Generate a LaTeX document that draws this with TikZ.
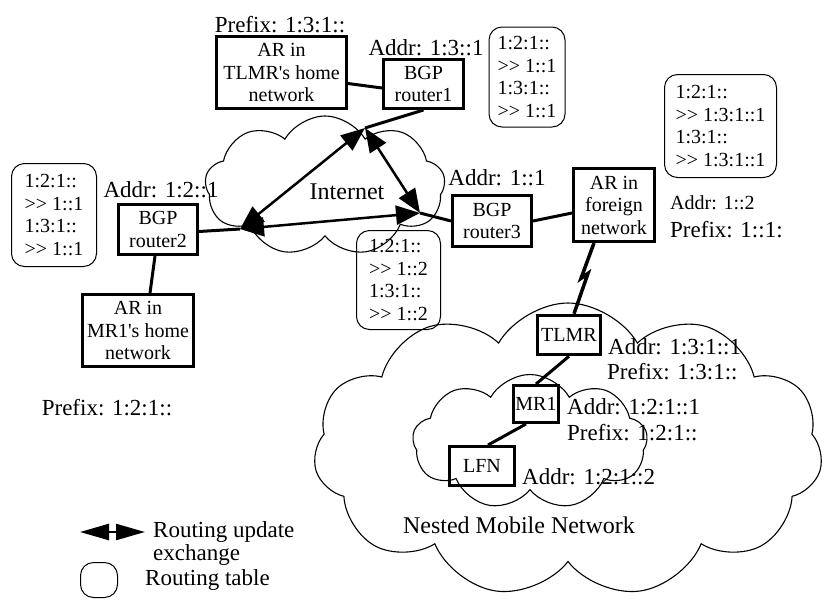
\documentclass[tikz,border=0pt]{standalone}
\usepackage{fontspec}
\setmainfont{Liberation Serif}[Ligatures=TeXOff]
\usetikzlibrary{shapes.symbols,arrows.meta,calc}

\begin{document}
\begin{tikzpicture}[x=1pt,y=-1pt]
\tikzstyle{every node}+=[inner sep=0pt]
\tikzstyle{box}=[draw, line width=3pt, align=center, font=\fontsize{20}{22.5}\selectfont]
\tikzstyle{rtable}=[draw, line width=1pt, rounded corners=13pt, align=left, font=\fontsize{20}{22.5}\selectfont]
\tikzstyle{lbl}=[font=\fontsize{23}{25}\selectfont]
\tikzstyle{net}=[draw, cloud, cloud puffs=9, cloud puff arc=120, cloud ignores aspect, line width=1.1pt]
\tikzstyle{link}=[line width=3pt]
\tikzstyle{upd}=[line width=2.5pt, {Triangle[length=24pt,width=19pt]}-{Triangle[length=24pt,width=19pt]}]
\useasboundingbox (0,0) rectangle (825,603);
\node [net, minimum width=240, minimum height=140] (inet) at (325,186) {};
\node [lbl, font=\fontsize{24}{26}\selectfont] (inettxt) at (347,192) {Internet};
\node [net, cloud puffs=11, minimum width=509, minimum height=294] (nmn) at (568,450) {};
\node [net, minimum width=235, minimum height=135] (subnet) at (530,442) {};
\node [lbl, font=\fontsize{24}{26}\selectfont] (nmntxt) at (519,525) {Nested Mobile Network};
\node [box, minimum width=130, minimum height=72] (artlmr) at (281.5,72.5) {AR in\\TLMR's home\\network};
\node [lbl] (artlmrpre) at (280,25) {Prefix: 1:3:1::};
\node [box, minimum width=80, minimum height=49] (r1) at (423.5,84) {BGP\\router1};
\node [lbl] (r1addr) at (426,48) {Addr: 1:3::1};
\node [rtable, minimum width=76, minimum height=100] (t1) at (527,77) {1:2:1::\\>> 1::1\\1:3:1::\\>> 1::1};
\node [box, minimum width=79, minimum height=50] (r2) at (158,229.5) {BGP\\router2};
\node [lbl] (r2addr) at (161,190) {Addr: 1:2::1};
\node [rtable, minimum width=85, minimum height=103] (t2) at (54,215) {1:2:1::\\>> 1::1\\1:3:1::\\>> 1::1};
\node [box, minimum width=111, minimum height=72] (armr1) at (138,330.5) {AR in\\MR1's home\\network};
\node [lbl] (armr1pre) at (107,408) {Prefix: 1:2:1::};
\node [box, minimum width=79, minimum height=51] (r3) at (492,221) {BGP\\router3};
\node [lbl] (r3addr) at (497,178) {Addr: 1::1};
\node [box, minimum width=81, minimum height=73] (arfor) at (614,205) {AR in\\foreign\\network};
\node [rtable, minimum width=112, minimum height=103] (t4) at (720.5,126) {1:2:1::\\>> 1:3:1::1\\1:3:1::\\>> 1:3:1::1};
\node [font=\fontsize{20}{22}\selectfont, anchor=west] (arforaddr) at (670,203) {Addr: 1::2};
\node [lbl, anchor=west] (arforpre) at (670,230) {Prefix: 1::1:};
\node [rtable, minimum width=84, minimum height=99] (t3) at (398.5,280) {1:2:1::\\>> 1::2\\1:3:1::\\>> 1::2};
\node [box, line width=3.5pt, minimum width=63, minimum height=39] (tlmr) at (569,335) {TLMR};
\node [lbl, anchor=west] (tlmraddr) at (608,347) {Addr: 1:3:1::1};
\node [lbl, anchor=west] (tlmrpre) at (607,372) {Prefix: 1:3:1::};
\node [box, minimum width=45, minimum height=37] (mr1) at (536,404) {MR1};
\node [lbl, anchor=west] (mr1addr) at (567,407) {Addr: 1:2:1::1};
\node [lbl, anchor=west] (mr1pre) at (567,433) {Prefix: 1:2:1::};
\node [box, minimum width=65, minimum height=39] (lfn) at (482,466) {LFN};
\node [lbl, anchor=west] (lfnaddr) at (522,477) {Addr: 1:2:1::2};
\coordinate (p1) at (365,128);
\coordinate (p2) at (240,229);
\coordinate (p3) at (420,213);
\draw [link] ([yshift=-11pt]artlmr.east) -- ([yshift=-4pt]r1.west);
\draw [link] (r1.south) -- (p1);
\draw [link] ([yshift=-2pt]r2.east) -- (p2);
\draw [link] (p3) -- (r3.west);
\draw [link] (r3.east) -- ([yshift=-8pt]arfor.west);
\draw [link] ([xshift=-3pt]r2.south) -- ([xshift=12pt]armr1.north);
\draw [link] (tlmr.south) -- (mr1.north);
\draw [link] ([xshift=-10pt]mr1.south) -- ([xshift=6pt]lfn.north);
\draw [upd] (p1) -- (p2);
\draw [upd] (p1) -- (p3);
\draw [upd] (p2) -- (p3);
\coordinate (za) at ($(arfor.south)+(-20,0)$);
\coordinate (zb) at ($(tlmr.north)+(5,0)$);
\draw [line width=3.5pt] (za) -- ($(za)!0.5!(zb)+(-3,0)$) -- ++(7,-5) -- (zb);
\coordinate (la) at (80,532);
\coordinate (lb) at (145,532);
\draw [line width=2.5pt, {Triangle[length=29pt,width=16pt]}-{Triangle[length=29pt,width=16pt]}] (la) -- (lb);
\node [rtable, minimum width=37, minimum height=35] (lgtab) at (99,580) {};
\node [lbl, anchor=west, align=left, font=\fontsize{23}{23}\selectfont] (lgupd) at (153,543) {Routing update\\exchange};
\node [lbl, anchor=west] (lgtabtxt) at (145,580) {Routing table};
\end{tikzpicture}
\end{document}
